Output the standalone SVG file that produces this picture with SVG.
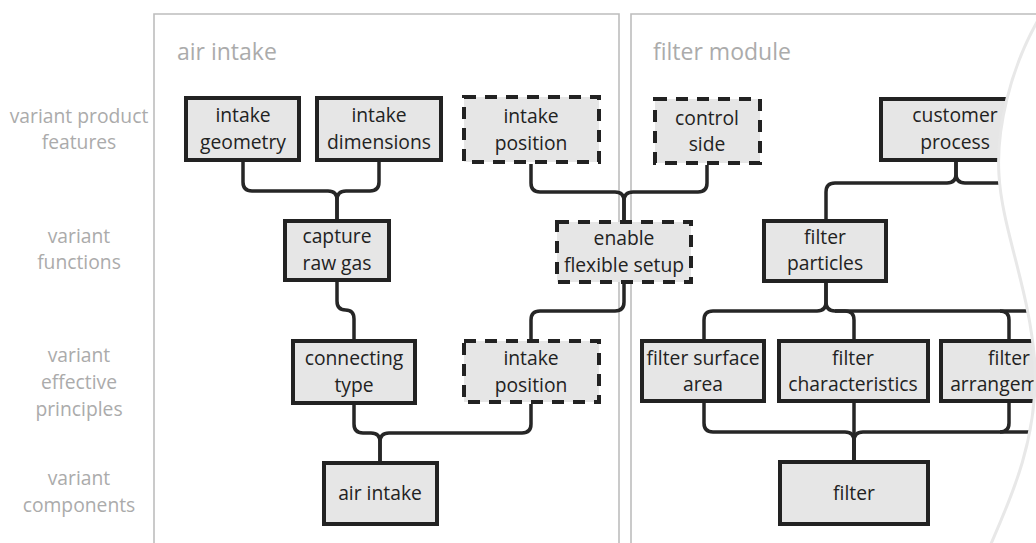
<svg xmlns="http://www.w3.org/2000/svg" width="1036" height="543" viewBox="0 0 1036 543">
<style>
.frame{fill:none;stroke:#bdbdbd;stroke-width:1.6}
.lab{font-family:"Open Sans","Noto Sans",sans-serif;font-size:19.3px;fill:#ababab;text-anchor:middle}
.title{font-family:"Open Sans","Noto Sans",sans-serif;font-size:23px;fill:#ababab}
.n rect{fill:#e6e6e6;stroke:#222;stroke-width:4}
.d rect{fill:#e6e6e6;stroke:#222;stroke-width:4;stroke-dasharray:12 9}
.n text,.d text{font-family:"Open Sans","Noto Sans",sans-serif;font-size:19.3px;fill:#222;text-anchor:middle}
.c path{fill:none;stroke:#262626;stroke-width:3.5}
</style>
<rect width="1036" height="543" fill="#fff"/>
<g id="frames">
<path class="frame" d="M154,545 V14 H619 V545"/>
<path class="frame" d="M631,545 V14 H1040"/>
<text class="title" x="177" y="60">air intake</text>
<text class="title" x="653" y="60">filter module</text>
</g>
<g id="rows">
<text class="lab" x="79" y="123">variant product</text>
<text class="lab" x="79" y="149">features</text>
<text class="lab" x="79" y="243">variant</text>
<text class="lab" x="79" y="269">functions</text>
<text class="lab" x="79" y="362">variant</text>
<text class="lab" x="79" y="389">effective</text>
<text class="lab" x="79" y="416">principles</text>
<text class="lab" x="79" y="485">variant</text>
<text class="lab" x="79" y="512">components</text>
</g>
<g id="connectors" class="c">
<path d="M243,162 V182 Q243,191 252,191 H328 Q337,191 337,200 V219"/>
<path d="M379,162 V182 Q379,191 370,191 H346 Q337,191 337,200 V219"/>
<path d="M337,282 V301 Q337,310 345.5,310 Q354,310 354,319 V339"/>
<path d="M354,405 V424 Q354,433 363,433 H371 Q380,433 380,442 V461"/>
<path d="M531,404 V424 Q531,433 522,433 H389 Q380,433 380,442 V461"/>
<path d="M531,164 V183 Q531,192 540,192 H615 Q624,192 624,201 V220"/>
<path d="M707,165 V183 Q707,192 698,192 H633 Q624,192 624,201 V220"/>
<path d="M624,284 V302 Q624,311 615,311 H540 Q531,311 531,320 V339"/>
<path d="M956,162 V174 Q956,183 947,183 H835 Q826,183 826,192 V219"/>
<path d="M956,162 V174 Q956,183 965,183 H1036"/>
<path d="M826,283 V302 Q826,311 817,311 H713 Q704,311 704,320 V339"/>
<path d="M826,283 V302 Q826,311 835,311 H845 Q854,311 854,320 V339"/>
<path d="M835,311 H1000 Q1009,311 1009,320 V339"/>
<path d="M1000,311 H1036"/>
<path d="M704,403 V423 Q704,432 713,432 H845 Q854,432 854,441 V460"/>
<path d="M854,403 V460"/>
<path d="M1009,403 V423 Q1009,432 1000,432 H863 Q854,432 854,441 V460"/>
<path d="M1000,432 H1036"/>
</g>
<g id="intake-geometry" class="n"><rect x="186" y="98" width="113" height="62"/><text x="243" y="122">intake</text><text x="243" y="149">geometry</text></g>
<g id="intake-dimensions" class="n"><rect x="317" y="98" width="124" height="62"/><text x="379" y="122">intake</text><text x="379" y="149">dimensions</text></g>
<g id="intake-position-1" class="d"><rect x="464" y="97" width="135" height="65"/><text x="531" y="123">intake</text><text x="531" y="150">position</text></g>
<g id="control-side" class="d"><rect x="655" y="99" width="105" height="64"/><text x="707" y="125">control</text><text x="707" y="151">side</text></g>
<g id="customer-process" class="n"><rect x="881" y="99" width="150" height="61"/><text x="955" y="122">customer</text><text x="955" y="149">process</text></g>
<g id="capture-raw-gas" class="n"><rect x="285" y="221" width="104" height="59"/><text x="337" y="243">capture</text><text x="337" y="270">raw gas</text></g>
<g id="enable-flexible-setup" class="d"><rect x="557" y="222" width="134" height="60"/><text x="624" y="245">enable</text><text x="624" y="272">flexible setup</text></g>
<g id="filter-particles" class="n"><rect x="764" y="221" width="122" height="60"/><text x="825" y="244">filter</text><text x="825" y="270">particles</text></g>
<g id="connecting-type" class="n"><rect x="293" y="341" width="122" height="62"/><text x="354" y="365">connecting</text><text x="354" y="392">type</text></g>
<g id="intake-position-2" class="d"><rect x="464" y="341" width="135" height="61"/><text x="531" y="365">intake</text><text x="531" y="392">position</text></g>
<g id="filter-surface-area" class="n"><rect x="642" y="341" width="122" height="60"/><text x="703" y="365">filter surface</text><text x="703" y="391">area</text></g>
<g id="filter-characteristics" class="n"><rect x="779" y="341" width="149" height="60"/><text x="853" y="365">filter</text><text x="853" y="391">characteristics</text></g>
<g id="filter-arrangement" class="n"><rect x="941" y="341" width="140" height="60"/><text x="1009" y="365">filter</text><text x="1009" y="391">arrangement</text></g>
<g id="air-intake" class="n"><rect x="324" y="463" width="113" height="61"/><text x="380" y="500">air intake</text></g>
<g id="filter" class="n"><rect x="780" y="462" width="148" height="62"/><text x="854" y="500">filter</text></g>
<path id="tear" d="M1037,22 C1010,70 996,130 999,175 C1002,230 1030,290 1035,365 C1038,440 1010,500 990,546 L1040,546 L1040,22 Z" fill="#fff" stroke="#e8e8e8" stroke-width="3"/>
</svg>
